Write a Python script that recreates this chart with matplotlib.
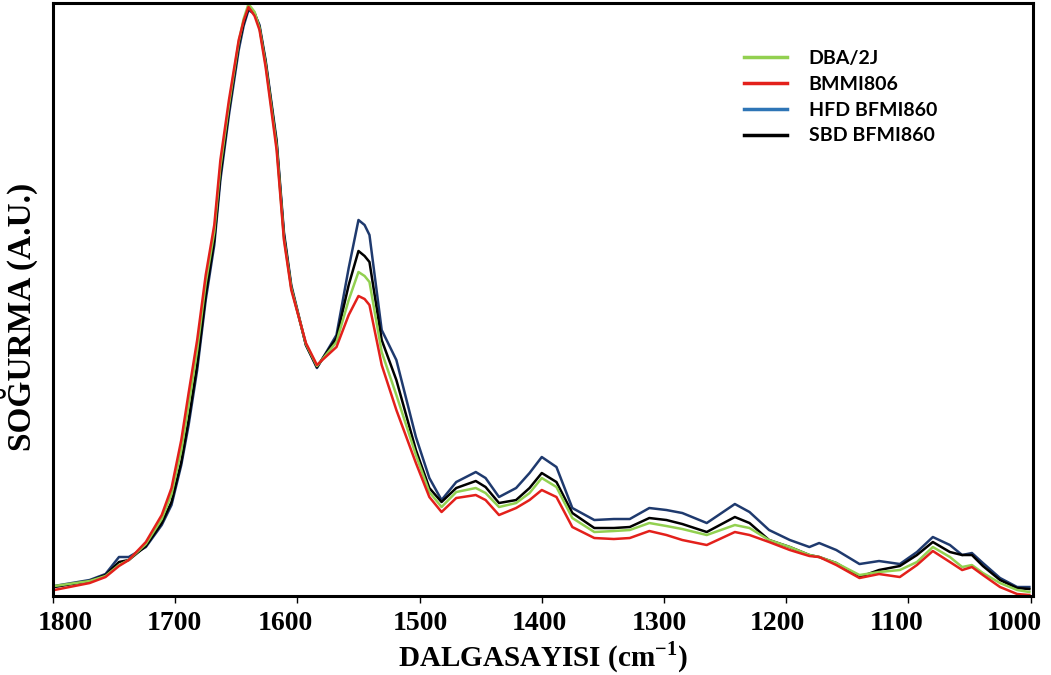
import matplotlib
matplotlib.use("Agg")
import matplotlib.pyplot as plt

plt.rcParams["mathtext.fontset"] = "custom"
plt.rcParams["mathtext.rm"] = "Liberation Serif:bold"
plt.rcParams["mathtext.bf"] = "Liberation Serif:bold"

# wavenumber grid (cm-1)
wn = [1799, 1770, 1757, 1746, 1738, 1724, 1711, 1703, 1695, 1689,
      1682, 1675, 1668, 1663, 1656, 1648, 1644, 1640, 1635, 1631, 1626, 1617,
      1611, 1605, 1593, 1584, 1568, 1558, 1550, 1545, 1541, 1531, 1519,
      1503, 1492, 1482, 1470, 1454, 1446, 1435, 1421, 1410, 1400,
      1388, 1375, 1357, 1341, 1328, 1312, 1298, 1285, 1265, 1242,
      1230, 1214, 1197, 1181, 1173, 1159, 1140, 1124, 1107, 1093,
      1080, 1066, 1056, 1048, 1039, 1025, 1011, 1001]

# absorbance (A.U., x1e-3)
dba = [10, 15, 20, 31, 36, 52, 77, 102, 146, 191,
       246, 313, 364, 429, 491, 554, 577, 592, 584, 568, 532, 450,
       358, 308, 252, 230, 254, 296, 324, 320, 314, 244, 201,
       141, 104, 89, 104, 108, 103, 89, 93, 103, 118,
       109, 78, 64, 65, 66, 73, 70, 67, 61, 71,
       68, 56, 49, 41, 39, 33, 21, 24, 26, 34,
       49, 39, 29, 31, 23, 13, 6, 4]
bmmi = [6, 13, 19, 30, 36, 54, 81, 108, 156, 203,
        256, 321, 371, 436, 496, 556, 575, 589, 580, 566, 529, 446,
        356, 306, 253, 231, 249, 281, 300, 297, 291, 231, 186,
        133, 99, 84, 98, 101, 96, 81, 88, 96, 106,
        99, 69, 58, 57, 58, 65, 61, 56, 51, 64,
        61, 54, 46, 40, 39, 31, 18, 22, 19, 31,
        45, 34, 26, 29, 21, 9, 2, 1]
hfd = [10, 16, 22, 39, 39, 49, 71, 91, 131, 171,
       226, 296, 351, 416, 481, 546, 570, 586, 582, 571, 536, 456,
       364, 311, 251, 228, 261, 328, 376, 371, 361, 266, 236,
       159, 118, 96, 114, 124, 118, 99, 108, 123, 139,
       129, 88, 76, 77, 77, 88, 86, 83, 73, 92,
       84, 66, 56, 49, 53, 46, 32, 35, 32, 44,
       59, 51, 41, 43, 33, 18, 9, 9]
sbd = [9, 15, 21, 34, 36, 50, 73, 94, 134, 176,
       231, 301, 356, 421, 486, 551, 573, 588, 583, 569, 534, 453,
       361, 309, 251, 229, 258, 311, 345, 340, 334, 256, 216,
       146, 108, 94, 108, 115, 109, 93, 96, 108, 123,
       114, 83, 68, 68, 69, 78, 76, 72, 64, 79,
       73, 56, 49, 41, 39, 33, 19, 26, 30, 41,
       54, 44, 41, 41, 30, 16, 8, 7]

xticks = [1800, 1700, 1600, 1500, 1400, 1300, 1200, 1100, 1000]
xticklabels = ["1800", "1700", "1600", "1500", "1400", "1300", "1200", "1100", "1000"]
# the labels in the original sit a little off their tick marks
label_pos = [1790, 1701, 1610, 1499, 1402, 1304, 1207, 1110, 1013]

fig = plt.figure(figsize=(10.51, 6.75), dpi=100)
ax = fig.add_axes([0.0504, 0.117, 0.9325, 0.8786])

lw = 1.8
l_hfd, = ax.plot(wn, [v / 1000 for v in hfd], color="#1f3a6e", lw=lw, label="HFD BFMI860")
l_sbd, = ax.plot(wn, [v / 1000 for v in sbd], color="black", lw=lw, label="SBD BFMI860")
l_dba, = ax.plot(wn, [v / 1000 for v in dba], color="#92d050", lw=lw, label="DBA/2J")
l_bmmi, = ax.plot(wn, [v / 1000 for v in bmmi], color="#e3201b", lw=lw, label="BMMI806")

ax.set_xlim(1800, 998)
ax.set_ylim(0, 0.593)
ax.set_xticks(xticks)
ax.set_xticklabels([""] * len(xticks))
ax.set_xticks(label_pos, minor=True)
ax.set_xticklabels(xticklabels, minor=True)
ax.set_yticks([])
for s in ax.spines.values():
    s.set_linewidth(2.2)

ax.tick_params(axis="x", which="major", direction="out", length=5, width=1, pad=6)
ax.tick_params(axis="x", which="minor", length=0, pad=11)
for t in ax.get_xticklabels(minor=True):
    t.set_fontfamily("Liberation Serif")
    t.set_fontweight("bold")
    t.set_fontsize(20)

ax.set_xlabel("DALGASAYISI (cm$^{-1}$)", fontfamily="Liberation Serif",
              fontweight="bold", fontsize=21, labelpad=2)
ax.set_ylabel("SOĞURMA (A.U.)", fontfamily="Liberation Serif",
              fontweight="bold", fontsize=24)
ax.yaxis.set_label_coords(-0.015, 0.47)

leg = ax.legend(handles=[l_dba, l_bmmi, l_hfd, l_sbd], loc="upper left",
                bbox_to_anchor=(0.699, 0.94), bbox_transform=fig.transFigure,
                frameon=False, borderpad=0, handlelength=2.2, handletextpad=1.1,
                labelspacing=0.45, prop={"family": "Lato", "weight": "bold", "size": 14})
leg.get_lines()[2].set_color("#2e75b6")
for h in leg.get_lines():
    h.set_linewidth(2.5)

fig.savefig("out.png", dpi=100)
